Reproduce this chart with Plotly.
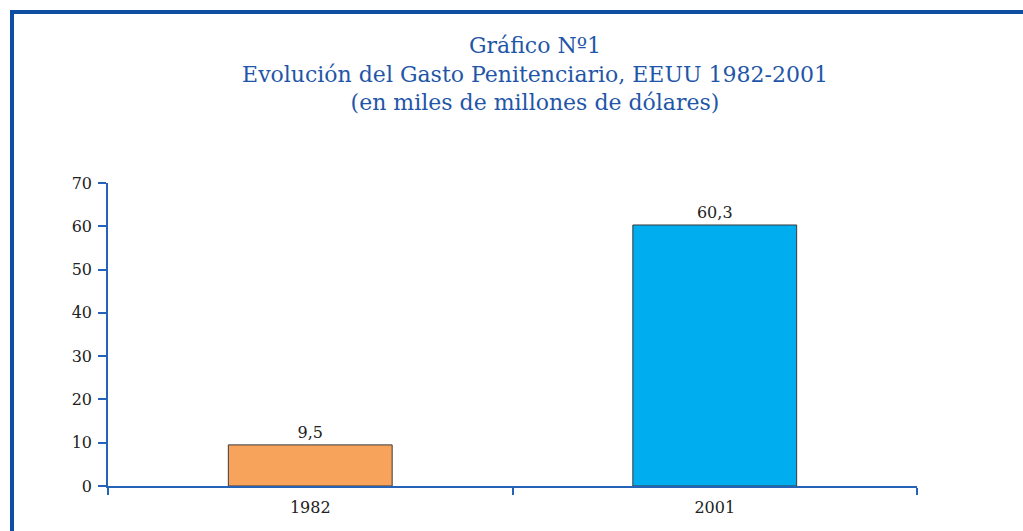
import plotly.graph_objects as go

categories = ["1982", "2001"]
values = [9.5, 60.3]
bar_colors = ["#F7A35C", "#00AEEF"]
y_ticks = [0, 10, 20, 30, 40, 50, 60, 70]
title_lines = ["Gráfico Nº1",
               "Evolución del Gasto Penitenciario, EEUU 1982-2001",
               "(en miles de millones de dólares)"]

W, H = 1023, 531
L, R, T, B = 108, 106, 183, 45
pw, ph = W - L - R, H - T - B

def px_to_paper_x(px):
    return (px - L) / pw

def py_to_paper_y(py):
    return (H - B - py) / ph

fig = go.Figure(go.Bar(
    x=categories, y=values,
    marker=dict(color=bar_colors, line=dict(color="#3a3a3a", width=1)),
    width=0.405,
    texttemplate="%{y:.1f}", textposition="outside",
    textfont=dict(family="DejaVu Serif", size=16, color="#222222"),
    cliponaxis=False,
))

frame_color = "#0F4FA3"
xl = px_to_paper_x(12)
xr = px_to_paper_x(W + 10)
yt = py_to_paper_y(12)
yb = py_to_paper_y(H + 10)
fig.add_shape(type="path", xref="paper", yref="paper",
              path=f"M {xl} {yb} L {xl} {yt} L {xr} {yt}",
              line=dict(color=frame_color, width=4))

fig.update_layout(
    width=W, height=H,
    margin=dict(l=L, r=R, t=T, b=B),
    paper_bgcolor="white", plot_bgcolor="white",
    separators=",.",
    showlegend=False,
    title=dict(text="<br>".join(title_lines), x=535 / W, xanchor="center",
               xref="container", yref="container", y=1 - 53 / H, yanchor="top",
               font=dict(family="DejaVu Serif", size=22, color="#1F56A8")),
    xaxis=dict(type="category", range=[-0.5, 1.5], showline=True,
               linecolor="#2563B8", linewidth=1.5, ticks="outside",
               tickson="boundaries", ticklen=7, tickcolor="#2563B8", tickwidth=1.5,
               showgrid=False, zeroline=False, ticklabelstandoff=6,
               tickfont=dict(family="DejaVu Serif", size=16, color="#222222")),
    yaxis=dict(range=[0, 70], tickvals=y_ticks, showline=True,
               linecolor="#2563B8", linewidth=1.5, ticks="outside",
               ticklen=8, tickcolor="#2563B8", tickwidth=1.5,
               showgrid=False, zeroline=False, ticklabelstandoff=3,
               tickfont=dict(family="DejaVu Serif", size=16, color="#222222")),
)

fig.write_html("out.html", config={"displayModeBar": False},
               post_script="document.body.style.margin='0';document.body.style.overflow='hidden';")
